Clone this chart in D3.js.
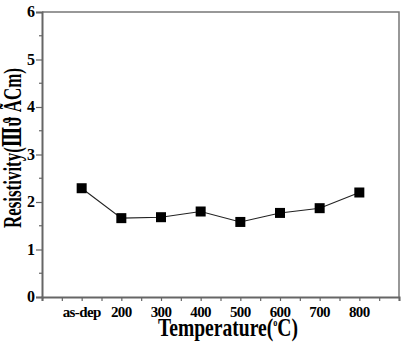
<!DOCTYPE html>
<html>
<head>
<meta charset="utf-8">
<script src="https://cdn.jsdelivr.net/npm/d3@7"></script>
<style>
  body { margin: 0; background: #fff; }
  svg { display: block; }
  text { font-family: 'Liberation Serif', 'DejaVu Serif', serif; font-weight: bold; fill: #000; }
</style>
</head>
<body>
<div id="chart"></div>
<script>
// data
var categories = ["as-dep", "200", "300", "400", "500", "600", "700", "800"];
var resistivity = [2.29, 1.66, 1.68, 1.80, 1.58, 1.77, 1.87, 2.20];
var yTicks = [0, 1, 2, 3, 4, 5, 6];

var W = 404, H = 346;
var margin = { left: 42, top: 12, right: 5, bottom: 49 };

var svg = d3.select("#chart").append("svg")
  .attr("width", W).attr("height", H);

// x is index based, one empty slot each side
var x = d3.scaleLinear().domain([-1, 8]).range([margin.left, W - margin.right]);
var y = d3.scaleLinear().domain([0, 6]).range([H - margin.bottom, margin.top]);

var axisCol = "#666";

// frame top and right
svg.append("path")
  .attr("d", "M" + x(-1) + "," + y(6) + "H" + x(8) + "V" + y(0))
  .attr("fill", "none").attr("stroke", "#777").attr("stroke-width", 1.5);

// x axis: ticks every half slot, labels drawn separately
var gx = svg.append("g").attr("transform", "translate(0," + y(0) + ")");
gx.call(d3.axisBottom(x).tickValues(d3.range(-1, 8.01, 0.5)).tickSize(4).tickFormat(""));
gx.select(".domain").attr("stroke", axisCol).attr("stroke-width", 2);
gx.selectAll(".tick line").attr("stroke", axisCol).attr("stroke-width", 1.2);

svg.selectAll(".cat").data(categories).enter().append("text")
  .attr("class", "cat")
  .attr("x", (d, i) => x(i))
  .attr("y", y(0) + 20)
  .attr("text-anchor", "middle")
  .style("font-size", "15px")
  .style("letter-spacing", "-0.6px")
  .text(d => d);

// y axis
var gy = svg.append("g").attr("transform", "translate(" + margin.left + ",0)");
gy.call(d3.axisLeft(y).tickValues(yTicks).tickSize(6).tickFormat(""));
gy.select(".domain").attr("stroke", axisCol).attr("stroke-width", 2);
gy.selectAll(".tick line").attr("stroke", axisCol).attr("stroke-width", 1.2);

svg.selectAll(".ylab").data(yTicks).enter().append("text")
  .attr("class", "ylab")
  .attr("x", margin.left - 7)
  .attr("y", d => y(d) + 5)
  .attr("text-anchor", "end")
  .style("font-size", "16px")
  .text(d => d);

// minor y ticks
gy.selectAll(".minor").data(d3.range(0.5, 6, 1)).enter().append("line")
  .attr("class", "minor")
  .attr("x1", -3).attr("x2", 0)
  .attr("y1", d => y(d)).attr("y2", d => y(d))
  .attr("stroke", axisCol).attr("stroke-width", 1.2);

// line + markers
var line = d3.line().x((d, i) => x(i)).y(d => y(d));
svg.append("path").datum(resistivity)
  .attr("d", line).attr("fill", "none").attr("stroke", "#222").attr("stroke-width", 1.1);

svg.selectAll(".pt").data(resistivity).enter().append("rect")
  .attr("class", "pt")
  .attr("x", (d, i) => x(i) - 5).attr("y", d => y(d) - 5)
  .attr("width", 10).attr("height", 10)
  .attr("fill", "#000");

// axis titles
svg.append("text")
  .attr("x", 158).attr("y", 336)
  .style("font-size", "26px")
  .attr("textLength", 140).attr("lengthAdjust", "spacingAndGlyphs")
  .html("Temperature(<tspan dy='-10' style='font-size:11px'>o</tspan><tspan dy='10'>C)</tspan>");

svg.append("text")
  .attr("transform", "translate(21,148) rotate(-90)")
  .attr("text-anchor", "middle")
  .style("font-size", "26px")
  .attr("textLength", 160).attr("lengthAdjust", "spacingAndGlyphs")
  .text("Resistivity(Ⅲϑ ÃCm)");
</script>
</body>
</html>
